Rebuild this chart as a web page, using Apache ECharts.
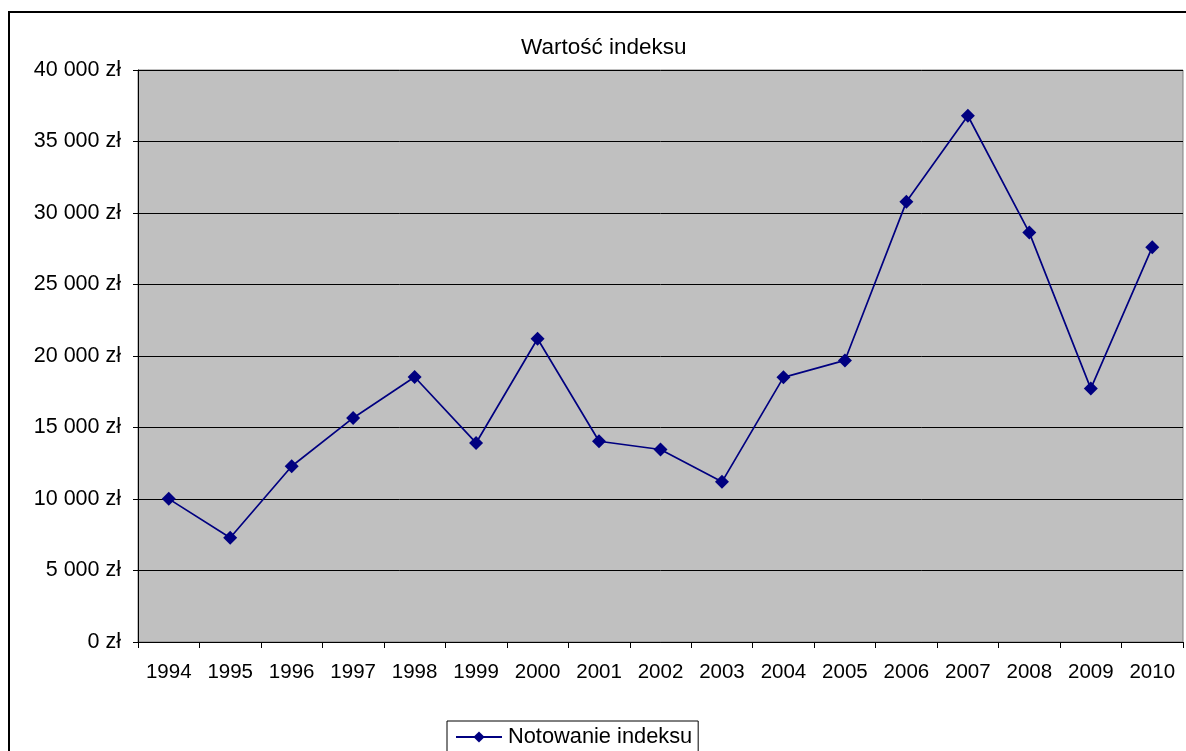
<!DOCTYPE html>
<html>
<head>
<meta charset="utf-8">
<script src="https://cdn.jsdelivr.net/npm/echarts@6/dist/echarts.min.js"></script>
<style>
html,body{margin:0;padding:0;background:#fff;}
#c{width:1186px;height:751px;}
</style>
</head>
<body>
<div id="c"></div>
<script>
const title = 'Wartość indeksu';
const seriesName = 'Notowanie indeksu';
const years = ['1994','1995','1996','1997','1998','1999','2000','2001','2002','2003','2004','2005','2006','2007','2008','2009','2010'];
const values = [10010, 7290, 12290, 15670, 18530, 13920, 21210, 14040, 13460, 11200, 18510, 19690, 30780, 36800, 28630, 17720, 27610];
const yMin = 0, yMax = 40000, yStep = 5000;

function fmt(v){
  const s = String(Math.round(v)).replace(/\B(?=(\d{3})+(?!\d))/g, ' ');
  return s + ' zł';
}

const chart = echarts.init(document.getElementById('c'), null, {renderer:'canvas'});
const font = '"Liberation Sans", Arial, sans-serif';
chart.setOption({
  animation:false,
  backgroundColor:'#ffffff',
  textStyle:{fontFamily:font},
  title:{
    text:title, left:516, top:31,
    textStyle:{fontFamily:font, fontSize:22.5, fontWeight:'normal', color:'#000'}
  },
  graphic:[{
    type:'rect', silent:true, z:100,
    shape:{x:9, y:12, width:1300, height:900},
    style:{fill:'none', stroke:'#000', lineWidth:2}
  }],
  legend:{
    data:[seriesName], left:447, top:721,
    orient:'horizontal',
    borderColor:'#000', borderWidth:1,
    padding:[5,6,5,8],
    itemWidth:46, itemHeight:14,
    textStyle:{fontFamily:font, fontSize:21.8, color:'#000', padding:[0,0,0,1]}
  },
  grid:{
    left:138, top:70, right:3, bottom:109,
    show:true, backgroundColor:'#C0C0C0', borderColor:'#808080', borderWidth:1
  },
  xAxis:{
    type:'category', data:years, boundaryGap:true,
    axisLine:{show:true, lineStyle:{color:'#000', width:1}},
    axisTick:{show:true, alignWithLabel:false, length:6, lineStyle:{color:'#000'}},
    axisLabel:{fontFamily:font, fontSize:20.5, color:'#000', margin:20, interval:0},
    splitLine:{show:false}
  },
  yAxis:{
    type:'value', min:yMin, max:yMax, interval:yStep,
    axisLine:{show:true, lineStyle:{color:'#000', width:1}},
    axisTick:{show:true, length:5, lineStyle:{color:'#000'}},
    axisLabel:{fontFamily:font, fontSize:21.5, color:'#000', margin:17, formatter:fmt},
    splitLine:{show:true, lineStyle:{color:'#000', width:1}}
  },
  series:[{
    name:seriesName, type:'line', data:values,
    symbol:'diamond', symbolSize:14,
    lineStyle:{color:'#000080', width:1.7},
    itemStyle:{color:'#000080'}
  }]
});
</script>
</body>
</html>
